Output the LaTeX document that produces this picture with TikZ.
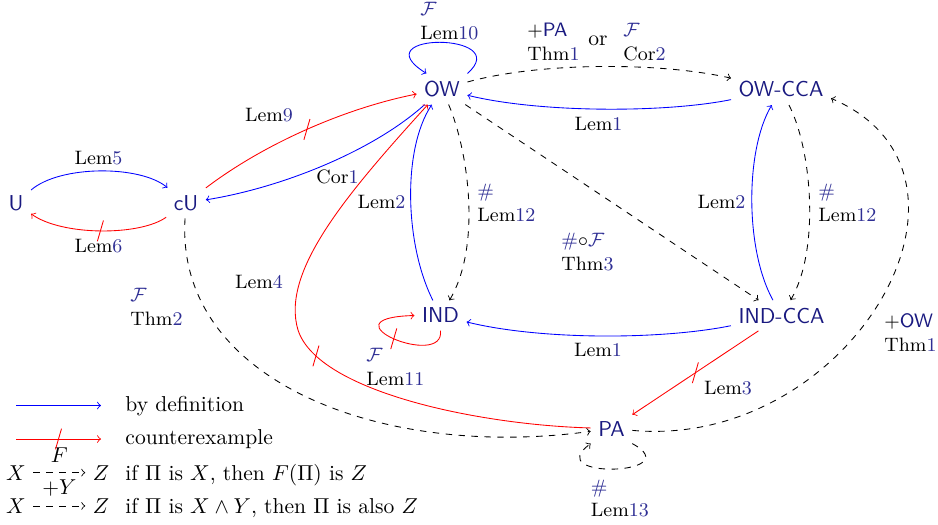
\documentclass[tikz,border=0pt]{standalone}
\usepackage{xcolor}
\definecolor{nodec}{rgb}{0.1,0.1,0.5}
\definecolor{refc}{rgb}{0.18,0.18,0.58}
\newcommand\rnum[1]{\textcolor{refc}{#1}}
\newcommand\calF{\textcolor{refc}{$\mathcal{F}$}}
\newcommand\hsh{\textcolor{refc}{\#}}
\newcommand\twol[2]{\begin{tabular}[b]{@{}l@{}}#1\\#2\end{tabular}}
\begin{document}
\begin{tikzpicture}[x=0.4638pt,y=-0.4638pt,
  st/.style={font=\sffamily, text=nodec},
  bydef/.style={blue,->},
  cex/.style={red,->},
  impl/.style={dashed,->},
  lab/.style={anchor=base, inner sep=0pt, font=\small},
  labw/.style={anchor=base west, inner sep=0pt, font=\small},
  legt/.style={anchor=base west, inner sep=0pt}]
% main nodes
\node[st] (U) at (16,203) {U};
\node[st] (cU) at (186,203) {cU};
\node[st] (OW) at (442,89) {OW};
\node[st] (OWCCA) at (781,89.5) {OW-CCA};
\node[st] (IND) at (440.5,315.5) {IND};
\node[st] (INDCCA) at (781.5,315.5) {IND-CCA};
\node[st] (PA) at (611.5,428.5) {PA};
% edges
\draw[bydef] (U) .. controls (60,165) and (140,165) .. (cU);
\draw[cex] (cU) .. controls (140,236) and (62,236) .. (U) coordinate[pos=0.5] (s6);
\draw[cex] (cU) .. controls (265,143) and (346,108) .. (OW) coordinate[pos=0.5] (s9);
\draw[bydef] (OW) .. controls (372,152) and (280,188) .. (cU);
\draw[bydef] (OW.north east) .. controls (515,32) and (360,32) .. (OW.135);
\draw[impl] (OW) .. controls (540,62) and (660,62) .. (OWCCA);
\draw[bydef] (OWCCA) .. controls (665,113) and (540,113) .. (OW);
\draw[impl] (OW) .. controls (468,150) and (482,245) .. (IND);
\draw[bydef] (IND) .. controls (405,245) and (402,150) .. (OW);
\draw[impl] (OW) -- (INDCCA);
\draw[impl] (OWCCA) .. controls (812,150) and (820,250) .. (INDCCA);
\draw[bydef] (INDCCA) .. controls (745,250) and (745,150) .. (OWCCA);
\draw[bydef] (INDCCA) .. controls (660,340) and (540,340) .. (IND);
\draw[cex] (IND.south) .. controls (445,370) and (320,318) .. (IND.west) coordinate[pos=0.5] (s11);
\draw[cex] (INDCCA) -- (PA) coordinate[pos=0.5] (s3);
\draw[cex] (PA) .. controls (480,425) and (318,392) .. (298,330) coordinate[pos=0.85] (s4)
   .. controls (280.6,272) and (345.7,195) .. (OW);
\draw[impl] (cU) .. controls (175,380) and (380,460) .. (PA);
\draw[impl] (PA) .. controls (850,450) and (1010,175) .. (OWCCA.-10);
\draw[impl] (PA.south east) .. controls (690,475) and (540,480) .. (PA.south west);
% labels
\node[labw] (l10) at (420,39.5) {\twol{\calF}{Lem\rnum{10}}};
\node[labw] (lpa) at (527,60) {\twol{+\textcolor{nodec}{\sffamily PA}}{Thm\rnum{1}}};
\node[lab, font=\normalsize] (lor) at (598,45) {or};
\node[labw] (lc2) at (623,60) {\twol{\calF}{Cor\rnum{2}}};
\node[lab] (l1a) at (598.5,130) {Lem\rnum{1}};
\node[lab] (l9) at (269,121.7) {Lem\rnum{9}};
\node[lab] (l5) at (98.5,164.3) {Lem\rnum{5}};
\node[lab] (l6) at (98.5,252.7) {Lem\rnum{6}};
\node[lab] (c1) at (337.5,183.3) {Cor\rnum{1}};
\node[lab] (l2a) at (381.5,208.5) {Lem\rnum{2}};
\node[labw] (l12a) at (477,221) {\twol{\hsh}{Lem\rnum{12}}};
\node[labw] (t3) at (561,270) {\twol{$\textcolor{refc}{\#}{\circ}\textcolor{refc}{\mathcal{F}}$}{Thm\rnum{3}}};
\node[labw] (l11) at (366,385) {\twol{\calF}{Lem\rnum{11}}};
\node[lab] (l1b) at (598,356.7) {Lem\rnum{1}};
\node[lab] (l2b) at (721.5,208.3) {Lem\rnum{2}};
\node[labw] (l12b) at (818,221) {\twol{\hsh}{Lem\rnum{12}}};
\node[labw] (low) at (884,351.7) {\twol{+\textcolor{nodec}{\sffamily OW}}{Thm\rnum{1}}};
\node[lab] (l3) at (728,394.3) {Lem\rnum{3}};
\node[labw] (t2) at (130,325) {\twol{\calF}{Thm\rnum{2}}};
\node[lab] (l4) at (259,288.3) {Lem\rnum{4}};
\node[labw] (l13) at (590.5,516.7) {\twol{\hsh}{Lem\rnum{13}}};
% legend
\coordinate (b1) at (16,405.5);
\coordinate (b2) at (101,405.5);
\draw[bydef] (b1) -- (b2);
\node[legt] (tb) at (125,411) {by definition};
\coordinate (r1) at (16,439);
\coordinate (r2) at (101,439);
\draw[cex] (r1) -- (r2) coordinate[pos=0.5] (sleg);
\node[legt] (tc) at (125,444.3) {counterexample};
\node[anchor=base] (X1) at (16,480) {$X$};
\node[anchor=base] (Z1) at (101,480) {$Z$};
\draw[impl] (X1) -- node[above=1pt] (F1) {$F$} (Z1);
\node[legt] (tf) at (125,480) {if $\Pi$ is $X$, then $F(\Pi)$ is $Z$};
\node[anchor=base] (X2) at (16,513.3) {$X$};
\node[anchor=base] (Z2) at (101,513.3) {$Z$};
\draw[impl] (X2) -- node[above=1pt] (Y2) {$+Y$} (Z2);
\node[legt] (ty) at (125,513.3) {if $\Pi$ is $X\wedge Y$, then $\Pi$ is also $Z$};
% strike marks
\foreach \s in {s6,s9,s11,s3,s4,sleg}
  \draw[red] (\s) ++(-1.4pt,-4.8pt) -- ++(2.8pt,9.6pt);
\pgfresetboundingbox
\useasboundingbox (0,0) rectangle (938,524);
\end{tikzpicture}
\end{document}
